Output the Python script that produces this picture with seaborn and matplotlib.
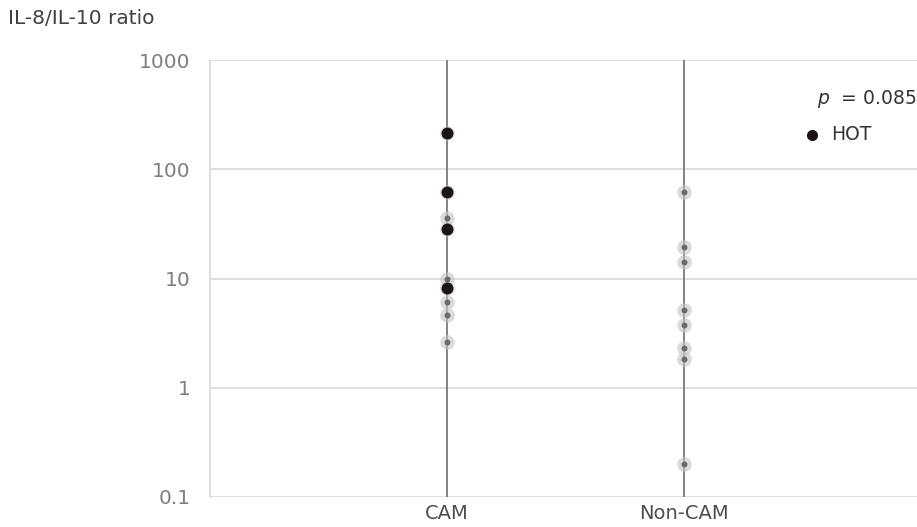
import matplotlib
matplotlib.use("Agg")
import matplotlib.pyplot as plt
import seaborn as sns
import pandas as pd
from matplotlib.ticker import FixedLocator, NullLocator

# ---- data ----
categories = ["CAM", "Non-CAM"]
cam_values = [215, 62, 28.4, 8.2, 35.8, 9.8, 6.1, 4.6, 2.64]
cam_hot = [True, True, True, True, False, False, False, False, False]
noncam_values = [61.5, 19.5, 14.1, 5.15, 3.73, 2.33, 1.82, 0.2]
noncam_hot = [False] * len(noncam_values)
ytick_values = [0.1, 1, 10, 100, 1000]
ytick_labels = ["0.1", "1", "10", "100", "1000"]
y_label = "IL-8/IL-10 ratio"
p_text = "0.085"
legend_label = "HOT"

df = pd.DataFrame({
    "group": [categories[0]] * len(cam_values) + [categories[1]] * len(noncam_values),
    "ratio": cam_values + noncam_values,
    "hot": cam_hot + noncam_hot,
})

sns.set_theme(style="white")
plt.rcParams["font.family"] = ["DejaVu Sans"]
plt.rcParams["mathtext.fontset"] = "dejavusans"

W, H = 917, 527
fig = plt.figure(figsize=(W / 100, H / 100), dpi=100)
left, right, top, bottom = 210, 917, 60, 497
ax = fig.add_axes([left / W, (H - bottom) / H, (right - left) / W, (bottom - top) / H])

ax.set_yscale("log")

# halo for all points
sns.stripplot(data=df, x="group", y="ratio", order=categories, jitter=False,
              color="#c4c4c4", alpha=0.6, size=10.5, linewidth=0, ax=ax, zorder=3)
# gray cores (non-HOT)
sns.stripplot(data=df[~df["hot"]], x="group", y="ratio", order=categories, jitter=False,
              color="#6b6b6b", size=4.3, linewidth=0, ax=ax, zorder=4)
# black HOT points
sns.stripplot(data=df[df["hot"]], x="group", y="ratio", order=categories, jitter=False,
              color="#1c1515", size=8.6, linewidth=0, ax=ax, zorder=5)

ax.set_xlim(-1, -1 + (right - left) / 237)
ax.set_ylim(0.1, 1000)
ax.yaxis.set_major_locator(FixedLocator(ytick_values))
ax.yaxis.set_minor_locator(NullLocator())
ax.set_yticklabels(ytick_labels)
ax.set_xlabel("")
ax.set_ylabel("")

# grid
ax.grid(False)
for v in ytick_values:
    ax.axhline(v, color="#d9d9d9", lw=1.2, zorder=1)
for i in range(len(categories)):
    ax.axvline(i, color="#7a7a7a", lw=1.3, zorder=2)

for s in ["top", "right", "bottom"]:
    ax.spines[s].set_visible(False)
ax.spines["left"].set_color("#d9d9d9")
ax.spines["left"].set_linewidth(1.2)

ax.tick_params(axis="y", length=0, pad=14, labelsize=14.5, labelcolor="#7f7f7f")
ax.tick_params(axis="x", length=0, pad=5, labelsize=14, labelcolor="#4d4d4d")

fig.text(8 / W, 1 - 19 / H, y_label, fontsize=14.5, color="#404040", va="center", ha="left")

# annotation and legend
fig.text(917 / W, 1 - 99 / H, r"$p$  = " + p_text, fontsize=13.5, color="#333333",
         ha="right", va="center")
fig.text(831 / W, 1 - 134 / H, legend_label, fontsize=13.5, color="#333333",
         ha="left", va="center")
ax.plot([812 / W], [1 - 135 / H], "o", transform=fig.transFigure, color="#1c1515",
        markersize=7, clip_on=False)

fig.savefig("out.png", dpi=100)
